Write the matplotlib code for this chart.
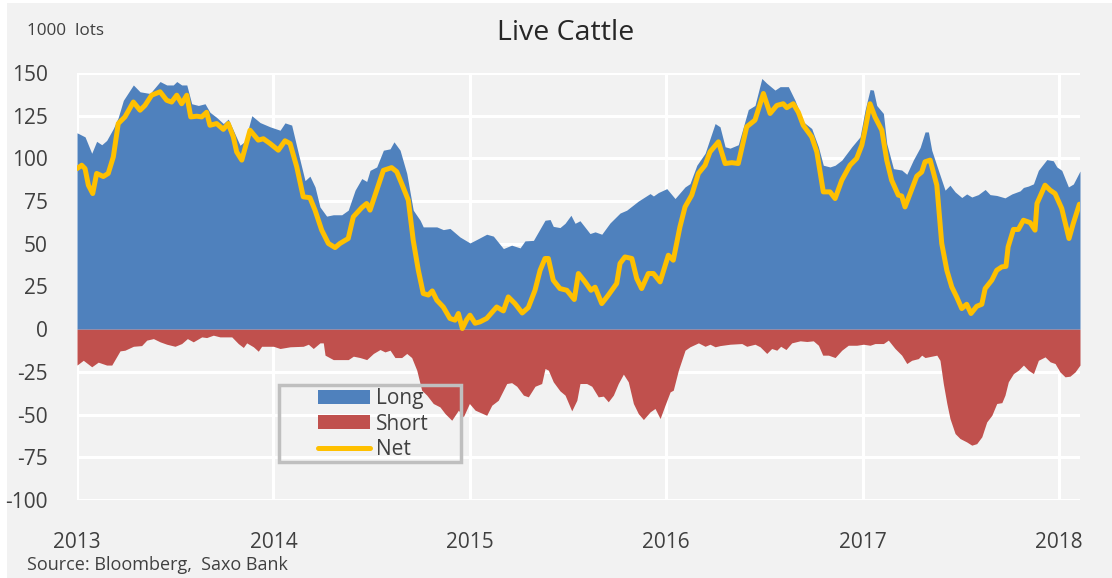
import matplotlib
matplotlib.use("Agg")
import matplotlib.pyplot as plt
from matplotlib.patches import Rectangle
from matplotlib.lines import Line2D
from matplotlib.patches import Patch
import numpy as np

# ---------------- data (years since 2013-01-01, 1000 lots) ----------------
long_t = [0.000, 0.041, 0.075, 0.100, 0.126, 0.151, 0.185, 0.210, 0.236, 0.287, 0.321, 0.372, 0.423, 0.457,
          0.490, 0.508, 0.533, 0.559, 0.584, 0.618, 0.652, 0.677, 0.711, 0.745, 0.770, 0.796, 0.830, 0.855,
          0.890, 0.932, 0.983, 1.034, 1.059, 1.093, 1.127, 1.161, 1.186, 1.212, 1.237, 1.271, 1.305, 1.348,
          1.381, 1.416, 1.450, 1.475, 1.492, 1.526, 1.560, 1.594, 1.614, 1.645, 1.679, 1.712, 1.747, 1.763,
          1.832, 1.865, 1.899, 1.950, 2.001, 2.035, 2.086, 2.120, 2.171, 2.213, 2.256, 2.281, 2.324, 2.383,
          2.409, 2.425, 2.459, 2.485, 2.515, 2.536, 2.561, 2.612, 2.638, 2.672, 2.714, 2.765, 2.799, 2.858,
          2.918, 2.935, 2.960, 3.003, 3.045, 3.096, 3.121, 3.156, 3.198, 3.249, 3.274, 3.300, 3.325, 3.367,
          3.418, 3.452, 3.487, 3.512, 3.554, 3.580, 3.622, 3.656, 3.698, 3.741, 3.775, 3.800, 3.834, 3.860,
          3.894, 3.945, 3.987, 4.012, 4.038, 4.055, 4.072, 4.106, 4.123, 4.157, 4.199, 4.225, 4.258, 4.293,
          4.318, 4.335, 4.352, 4.386, 4.420, 4.445, 4.471, 4.505, 4.530, 4.556, 4.589, 4.624, 4.649, 4.683,
          4.725, 4.760, 4.802, 4.819, 4.844, 4.870, 4.895, 4.938, 4.971, 4.989, 5.014, 5.048, 5.073, 5.107]
long_v = [115, 112.6, 103, 110, 108, 110.5, 117.5, 124, 134, 143, 139, 138, 145, 143,
          143, 145, 143, 143, 132, 131, 132, 127, 124, 120.4, 123, 116.5, 107.7, 110,
          125, 121, 118.5, 116.5, 120.8, 119.5, 103, 87, 89.6, 83.3, 71.6, 66.2, 67, 67,
          69.7, 81.4, 88.2, 86.5, 93, 95, 104.8, 105.6, 109.7, 104.8, 91.2, 69.7, 63.8, 59.9,
          59.9, 58.3, 59, 54, 50.5, 52.5, 55.6, 54.5, 47.2, 49.2, 47.6, 51.7, 52, 63.8,
          64.2, 60.2, 59.5, 62, 66.7, 62, 63.5, 56, 57, 55.6, 62.2, 68, 69.7, 75,
          79.4, 78, 80, 82.3, 76.5, 83.3, 85.2, 96, 103, 120.4, 118.5, 106.8, 106, 108,
          128.6, 131, 146.8, 144, 140, 142, 142, 134, 121.4, 117.5, 106.8, 96, 95, 96,
          99, 106.8, 112.6, 128, 140.3, 140, 131, 126.3, 108.7, 94, 93.2, 90.7, 99, 106.4,
          115.5, 115.5, 104.8, 93, 81.4, 84.3, 80.4, 77.1, 79.2, 77.4, 78.8, 81.8, 78.8, 78.3,
          76.9, 79.2, 81, 83, 83.8, 85.1, 93, 99.3, 98.6, 95, 93, 83.3, 85, 92.6]

short_t = [0.000, 0.032, 0.075, 0.108, 0.151, 0.177, 0.219, 0.244, 0.287, 0.329, 0.355, 0.389, 0.423, 0.457,
           0.499, 0.533, 0.562, 0.592, 0.635, 0.660, 0.694, 0.728, 0.788, 0.821, 0.847, 0.864, 0.898, 0.923,
           0.940, 1.000, 1.034, 1.085, 1.152, 1.178, 1.203, 1.237, 1.254, 1.263, 1.305, 1.381, 1.407, 1.441,
           1.475, 1.509, 1.543, 1.568, 1.594, 1.619, 1.653, 1.679, 1.704, 1.730, 1.755, 1.781, 1.814, 1.848,
           1.874, 1.908, 1.942, 1.967, 1.998, 2.027, 2.086, 2.112, 2.145, 2.188, 2.213, 2.239, 2.273, 2.298,
           2.332, 2.366, 2.383, 2.400, 2.425, 2.459, 2.485, 2.519, 2.545, 2.561, 2.595, 2.621, 2.654, 2.680,
           2.705, 2.731, 2.756, 2.782, 2.807, 2.833, 2.858, 2.884, 2.918, 2.943, 2.969, 2.994, 3.020, 3.036,
           3.062, 3.096, 3.121, 3.164, 3.198, 3.223, 3.249, 3.274, 3.325, 3.385, 3.410, 3.452, 3.478, 3.512,
           3.537, 3.563, 3.583, 3.610, 3.639, 3.682, 3.716, 3.749, 3.775, 3.797, 3.826, 3.860, 3.894, 3.927,
           3.970, 4.004, 4.038, 4.063, 4.106, 4.131, 4.165, 4.199, 4.225, 4.250, 4.284, 4.301, 4.318, 4.352,
           4.378, 4.394, 4.411, 4.429, 4.445, 4.471, 4.496, 4.530, 4.556, 4.581, 4.607, 4.632, 4.658, 4.683,
           4.709, 4.725, 4.742, 4.768, 4.793, 4.819, 4.844, 4.870, 4.895, 4.929, 4.955, 4.980, 5.005, 5.031,
           5.056, 5.082, 5.107]
short_v = [-21, -18.2, -22, -19.3, -21, -21, -12.7, -12.3, -10, -9.6, -6.4, -5.5, -7.4, -8.8,
           -10, -8.4, -5.5, -7.4, -4.5, -4.9, -3.5, -4.5, -4.5, -8.4, -10.7, -8, -10.3, -12.9,
           -10, -10, -11.3, -10.3, -10, -8.8, -11.3, -8, -8, -15.2, -17.8, -17.8, -15.8, -16.6,
           -17.8, -14.2, -11.9, -13.3, -12.3, -16.6, -16.6, -14.2, -16.6, -24, -35.7, -38.6, -43.5, -45.5,
           -49.4, -53.3, -47.4, -51.3, -43.5, -47.4, -50.4, -44.5, -41.6, -31.8, -31.3, -33.4, -38.6, -39.6,
           -33.4, -31.8, -23, -24, -30.8, -36.1, -38.6, -47.8, -41.6, -31.8, -31.8, -33.4, -39.6, -39.2,
           -42.5, -38.6, -31.8, -26.3, -30.8, -43.5, -49.4, -52.9, -48.4, -46.4, -52.3, -44.5, -36.7, -35.7,
           -24, -12.3, -10.3, -8, -10, -8.8, -10.3, -9.6, -8.8, -8.4, -10, -8.8, -10.3, -14.2,
           -11.3, -12.3, -10, -11.9, -8, -6.8, -7.2, -6.8, -9.4, -15.2, -15.2, -16.6, -12.3, -9.4,
           -9.4, -8.8, -9.4, -8.4, -8.4, -6.4, -11.3, -15.2, -20.1, -18.2, -17.2, -15.2, -16.6, -15.8,
           -15.2, -18.2, -31.8, -43.5, -52.3, -61.1, -64, -66, -67.9, -67, -63, -54.3, -50.4, -43.5,
           -43, -38.6, -30.8, -26, -24, -21, -24, -26, -18.2, -16.2, -19.1, -20.1, -25, -27.9,
           -27.5, -25, -21]

net_t = [0.000, 0.024, 0.041, 0.058, 0.080, 0.100, 0.134, 0.159, 0.185, 0.210, 0.244, 0.287, 0.321, 0.346,
         0.380, 0.423, 0.457, 0.482, 0.508, 0.533, 0.559, 0.579, 0.610, 0.635, 0.660, 0.677, 0.711, 0.745,
         0.770, 0.796, 0.813, 0.839, 0.881, 0.923, 0.949, 0.983, 1.025, 1.059, 1.085, 1.119, 1.152, 1.186,
         1.212, 1.246, 1.280, 1.314, 1.339, 1.381, 1.407, 1.450, 1.475, 1.492, 1.526, 1.560, 1.602, 1.628,
         1.653, 1.687, 1.712, 1.738, 1.763, 1.789, 1.809, 1.832, 1.865, 1.899, 1.925, 1.942, 1.962, 1.984,
         2.001, 2.027, 2.052, 2.086, 2.137, 2.171, 2.196, 2.230, 2.267, 2.298, 2.332, 2.358, 2.383, 2.400,
         2.425, 2.459, 2.494, 2.532, 2.553, 2.587, 2.617, 2.638, 2.672, 2.705, 2.748, 2.765, 2.790, 2.825,
         2.850, 2.875, 2.909, 2.935, 2.969, 3.011, 3.036, 3.070, 3.096, 3.130, 3.164, 3.198, 3.223, 3.266,
         3.300, 3.334, 3.367, 3.410, 3.452, 3.495, 3.529, 3.563, 3.596, 3.614, 3.647, 3.673, 3.698, 3.741,
         3.767, 3.800, 3.834, 3.860, 3.894, 3.936, 3.970, 3.996, 4.012, 4.038, 4.063, 4.098, 4.123, 4.148,
         4.182, 4.199, 4.216, 4.242, 4.276, 4.301, 4.318, 4.344, 4.378, 4.403, 4.429, 4.454, 4.479, 4.505,
         4.530, 4.552, 4.581, 4.607, 4.624, 4.658, 4.683, 4.709, 4.730, 4.741, 4.768, 4.793, 4.819, 4.853,
         4.878, 4.888, 4.929, 4.955, 4.980, 5.014, 5.051, 5.073, 5.104]
net_v = [94, 96, 94, 84.3, 79.4, 91.2, 89.4, 91.2, 100.9, 120.4, 124.3, 133, 128.2, 131,
         137, 139, 134, 133, 137, 132, 137, 124.3, 124.7, 124.3, 127, 119.4, 120.4, 117,
         120.4, 112.6, 103.8, 99, 116.5, 110.7, 111.5, 108.7, 104.8, 110.3, 108.7, 95, 77.5, 77,
         69.7, 58, 50.2, 47.8, 50.2, 53.1, 65.8, 71.2, 73.6, 69.7, 81.4, 93, 94.6, 92.2,
         85.3, 75.5, 52, 34.5, 20.9, 20, 22.4, 17, 13, 6.3, 5.3, 9.2, 0.4, 5.5,
         8.2, 3.5, 4.3, 6.3, 13, 10.7, 18.9, 15, 9.5, 12.7, 22.8, 34.5, 41.4, 41.4,
         28.7, 23.8, 22.8, 17.4, 32.6, 27.7, 22.8, 24.6, 15, 19.9, 26.8, 38.5, 42.3, 41.4,
         29.7, 23.8, 32.6, 32.6, 27.7, 43.3, 40.4, 59.9, 71.6, 78.5, 91.2, 96, 103.8, 109.7,
         97, 97.5, 97, 118.5, 122.4, 138, 126.3, 131, 132, 129.7, 132, 127, 119.4, 112.6,
         103.8, 80.4, 80.4, 76.5, 87.2, 96, 100, 107.7, 116.5, 132, 124.3, 116.5, 99, 87.2,
         78.5, 78, 71.6, 79.4, 89.6, 92, 98, 99, 84.3, 50.2, 34.5, 24.8, 18.9, 12.1,
         14.6, 9.2, 13.4, 14.6, 23.8, 28.7, 34.5, 36.5, 36.8, 48.2, 58.4, 58.4, 63.8, 62.4,
         58, 73.6, 84.3, 81.4, 79.4, 70.7, 53.1, 62, 73.2]

start_year = 2013
year_ticks = [2013, 2014, 2015, 2016, 2017, 2018]
y_ticks = [-100, -75, -50, -25, 0, 25, 50, 75, 100, 125, 150]

# ---------------- styling ----------------
BG = "#F2F2F2"
BLUE = "#4F81BD"
RED = "#C0504D"
YELLOW = "#FFC000"
TXT = "#404040"
FONT = "Open Sans"
plt.rcParams["font.family"] = [FONT, "DejaVu Sans"]

W, H = 1112, 578
fig = plt.figure(figsize=(W / 100, H / 100), dpi=100, facecolor="white")
fig.patches.append(Rectangle((7 / W, 0), 1 - 7 / W, 1 - 3 / H, transform=fig.transFigure,
                             facecolor=BG, edgecolor="none", zorder=-10))

ax = fig.add_axes([77 / W, 1 - 500 / H, (1080 - 77) / W, (500 - 73) / H])
ax.set_facecolor(BG)

lt = np.array(long_t) + start_year
st = np.array(short_t) + start_year
nt = np.array(net_t) + start_year

ax.fill_between(lt, 0, long_v, color=BLUE, lw=0, zorder=2)
ax.fill_between(st, 0, short_v, color=RED, lw=0, zorder=2)
ax.plot(nt, net_v, color=YELLOW, lw=3.6, solid_joinstyle="round", solid_capstyle="round", zorder=3)

ax.set_xlim(start_year, start_year + max(long_t))
ax.set_ylim(-100, 150)
ax.set_yticks(y_ticks)
ax.set_yticklabels([str(v) for v in y_ticks])
ax.set_xticks(year_ticks)
ax.set_xticklabels([str(v) for v in year_ticks])
ax.set_axisbelow(True)
ax.grid(True, color="white", lw=2.2)
for s in ax.spines.values():
    s.set_visible(False)
ax.tick_params(axis="both", length=0, colors=TXT, labelsize=15)
ax.tick_params(axis="y", pad=21)
ax.tick_params(axis="x", pad=23)

fig.text(566 / W, 1 - 33 / H, "Live Cattle", ha="center", va="center", fontsize=20.5, color="#262626")
fig.text(27 / W, 1 - 31 / H, "1000  lots", ha="left", va="center", fontsize=12.3, color=TXT)
fig.text(27 / W, 1 - 565 / H, "Source: Bloomberg,  Saxo Bank", ha="left", va="center", fontsize=13, color=TXT)

# legend frame and entries
fig.patches.append(Rectangle((279 / W, 1 - 462 / H), (461 - 279) / W, (462 - 385) / H,
                             transform=fig.transFigure, facecolor="none", edgecolor="#BFBFBF",
                             lw=2.5, zorder=5))
handles = [Patch(facecolor=BLUE, edgecolor="none"),
           Patch(facecolor=RED, edgecolor="none"),
           Line2D([0], [0], color=YELLOW, lw=3.6, solid_capstyle="round")]
leg = fig.legend(handles, ["Long", "Short", "Net"], loc="upper left",
                 bbox_to_anchor=(318 / W, 1 - 388 / H), frameon=False, fontsize=15,
                 handlelength=2.5, handleheight=0.65, handletextpad=0.3, labelspacing=0.22,
                 borderpad=0, borderaxespad=0)
for t in leg.get_texts():
    t.set_color(TXT)

fig.savefig("out.png", dpi=100, facecolor=fig.get_facecolor())
